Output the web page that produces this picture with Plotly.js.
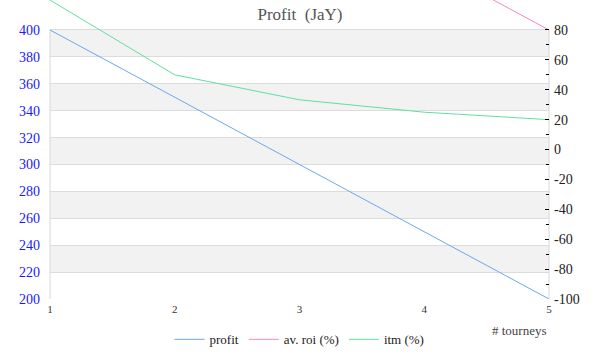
<!DOCTYPE html>
<html>
<head>
<meta charset="utf-8">
<script src="https://cdn.plot.ly/plotly-3.0.1.min.js"></script>
<style>html,body{margin:0;padding:0;background:#fff;}#chart{width:600px;height:360px;}</style>
</head>
<body>
<div id="chart"></div>
<script>
var tourneys = [1, 2, 3, 4, 5];
var profit = [400, 350, 300, 250, 200];
var roi = [800, 350, 200, 125, 80];
var itm = [100, 50, 33.3, 25, 20];
var leftTicks = [200, 220, 240, 260, 280, 300, 320, 340, 360, 380, 400];
var rightTicks = [-100, -80, -60, -40, -20, 0, 20, 40, 60, 80];
var rightTickText = ['-100', '-80', '-60', '-40', '-20', '0', '20', '40', '60', '80'];
var rightMinor = [-90, -70, -50, -30, -10, 10, 30, 50, 70];
var bandLows = [220, 260, 300, 340, 380];

var font = "Liberation Serif, Georgia, serif";

var shapes = bandLows.map(function (lo) {
  return {type: 'rect', xref: 'paper', yref: 'y', x0: 0, x1: 1, y0: lo, y1: lo + 20,
    fillcolor: '#f2f2f2', line: {width: 0}, layer: 'below'};
});
shapes.push({type: 'line', xref: 'paper', yref: 'y', x0: 0, x1: 0, y0: 200, y1: 400,
  line: {color: '#d8d8d8', width: 1}, layer: 'below'});
shapes.push({type: 'line', xref: 'paper', yref: 'y', x0: 1, x1: 1, y0: 200, y1: 400,
  line: {color: '#d8d8d8', width: 1}, layer: 'below'});

var traces = [
  {x: tourneys, y: profit, name: 'profit', type: 'scatter', mode: 'lines', yaxis: 'y',
    line: {color: '#6aa8f0', width: 1}},
  {x: tourneys, y: roi, name: 'av. roi (%)', type: 'scatter', mode: 'lines', yaxis: 'y2',
    line: {color: '#f386c4', width: 1}},
  {x: tourneys, y: itm, name: 'itm (%)', type: 'scatter', mode: 'lines', yaxis: 'y2',
    line: {color: '#5ee0a2', width: 1}}
];

var layout = {
  width: 600, height: 360,
  margin: {l: 50, r: 51, t: 0, b: 61, pad: 0},
  paper_bgcolor: '#fff', plot_bgcolor: 'rgba(0,0,0,0)',
  font: {family: font, size: 13, color: '#333'},
  title: {text: 'Profit  (JaY)', font: {family: font, size: 17, color: '#555'},
    x: 0.5, xanchor: 'center', y: 0.962, yanchor: 'middle', yref: 'container'},
  xaxis: {range: [1, 5], tickvals: tourneys, showgrid: false, zeroline: false, showline: false,
    ticks: '', tickfont: {family: font, size: 11, color: '#333'}, ticklabelstandoff: 2},
  yaxis: {range: [200, 422.3], tickvals: leftTicks, showgrid: true, gridcolor: '#dcdcdc', gridwidth: 1,
    zeroline: false, showline: false, ticks: '', ticklabelstandoff: 9,
    tickfont: {family: font, size: 14, color: '#1a1aff'}},
  yaxis2: {range: [-100, 100.07], overlaying: 'y', side: 'right', tickmode: 'array',
    tickvals: rightTicks, ticktext: rightTickText,
    showgrid: false, zeroline: false, showline: false,
    ticks: 'inside', ticklen: 4, tickcolor: '#000', tickwidth: 1, ticklabelstandoff: 4,
    minor: {tickvals: rightMinor, ticks: 'inside', ticklen: 3, tickcolor: '#000', showgrid: false},
    tickfont: {family: font, size: 14, color: '#222'}},
  legend: {orientation: 'h', x: 0.5, xanchor: 'center', y: -0.135, yanchor: 'middle',
    font: {family: font, size: 13, color: '#222'}, bgcolor: 'rgba(0,0,0,0)', itemwidth: 30},
  annotations: [{text: '# tourneys', xref: 'paper', yref: 'paper', x: 1, y: -0.104,
    xanchor: 'right', yanchor: 'middle', showarrow: false,
    font: {family: font, size: 13, color: '#444'}}],
  shapes: shapes
};

Plotly.newPlot('chart', traces, layout, {displayModeBar: false, staticPlot: true});
</script>
</body>
</html>
